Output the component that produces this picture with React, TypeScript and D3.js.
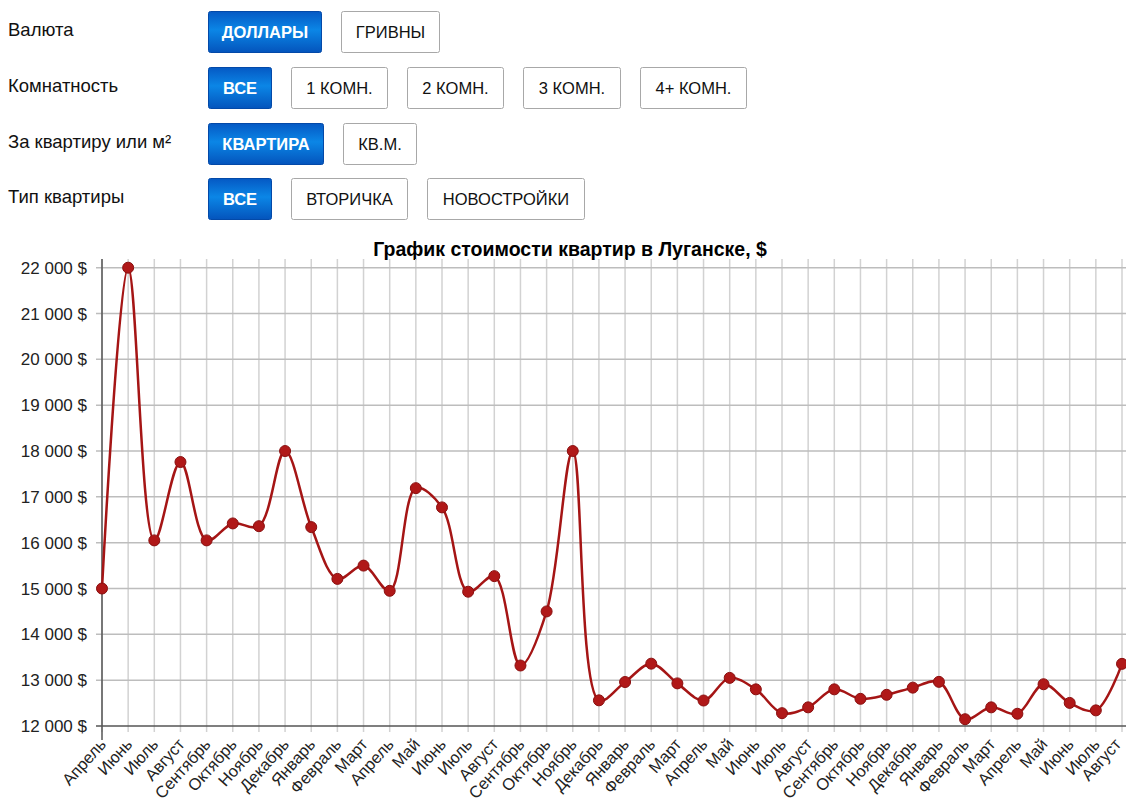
import React from "react";
import * as d3 from "d3";

const months = [
  "Апрель", "Июнь", "Июль", "Август", "Сентябрь", "Октябрь", "Ноябрь", "Декабрь",
  "Январь", "Февраль", "Март", "Апрель", "Май", "Июнь", "Июль", "Август",
  "Сентябрь", "Октябрь", "Ноябрь", "Декабрь", "Январь", "Февраль", "Март", "Апрель",
  "Май", "Июнь", "Июль", "Август", "Сентябрь", "Октябрь", "Ноябрь", "Декабрь",
  "Январь", "Февраль", "Март", "Апрель", "Май", "Июнь", "Июль", "Август",
];

const prices = [
  15000, 22000, 16050, 17760, 16050, 16420, 16360, 18000,
  16340, 15210, 15500, 14950, 17190, 16770, 14930, 15270,
  13320, 14500, 18000, 12560, 12960, 13360, 12930, 12556,
  13050, 12800, 12280, 12407, 12800, 12593, 12681, 12837,
  12963, 12148, 12407, 12267, 12911, 12504, 12341, 13356,
];

const yTicks = [12000, 13000, 14000, 15000, 16000, 17000, 18000, 19000, 20000, 21000, 22000];

const filterRows = [
  { label: "Валюта", options: ["ДОЛЛАРЫ", "ГРИВНЫ"], selected: 0 },
  { label: "Комнатность", options: ["ВСЕ", "1 КОМН.", "2 КОМН.", "3 КОМН.", "4+ КОМН."], selected: 0 },
  { label: "За квартиру или м²", options: ["КВАРТИРА", "КВ.М."], selected: 0 },
  { label: "Тип квартиры", options: ["ВСЕ", "ВТОРИЧКА", "НОВОСТРОЙКИ"], selected: 0 },
];

const title = "График стоимости квартир в Луганске, $";

const FONT = "'Liberation Sans', Arial, sans-serif";

export default function App() {
  const W = 1126, H = 798;
  const left = 102, right = 1122, top = 259, bottom = 726;

  const x = d3.scalePoint<number>().domain(d3.range(months.length)).range([left, right]);
  const y = d3.scaleLinear().domain([12000, 22000]).range([bottom, 267.7]);

  const line = d3
    .line<number>()
    .x((_, i) => x(i)!)
    .y((d) => y(d))
    .curve(d3.curveCatmullRom.alpha(0.5));

  const fmt = (v: number) => d3.format(",")(v).replace(/,/g, " ") + " $";

  const rowY = [11, 67, 123, 178];
  const btnH = 41;
  const btnWidths = [
    [113, 98],
    [63, 96, 96, 97, 106],
    [115, 73],
    [63, 116, 157],
  ];

  return (
    <svg
      width={W}
      height={H}
      style={{ position: "absolute", left: 0, top: 0, background: "#fff" }}
      fontFamily={FONT}
    >
      <defs>
        <linearGradient id="btnGrad" x1="0" y1="0" x2="0" y2="1">
          <stop offset="0%" stopColor="#0559c4" />
          <stop offset="45%" stopColor="#0b86e6" />
          <stop offset="100%" stopColor="#0454bc" />
        </linearGradient>
      </defs>

      {/* filter controls */}
      {filterRows.map((row, ri) => {
        let bx = 208;
        const by = rowY[ri];
        return (
          <g key={ri}>
            <text x={8} y={by + 25} fontSize={18.5} fill="#111">
              {row.label}
            </text>
            {row.options.map((opt, oi) => {
              const w = btnWidths[ri][oi];
              const cx = bx;
              bx += w + 20;
              const sel = oi === row.selected;
              return (
                <g key={oi}>
                  <rect
                    x={cx + 0.5}
                    y={by + 0.5}
                    width={w}
                    height={btnH}
                    rx={2}
                    fill={sel ? "url(#btnGrad)" : "#fff"}
                    stroke={sel ? "#0349a8" : "#a8a8a8"}
                    strokeWidth={1}
                  />
                  <text
                    x={cx + w / 2 + 0.5}
                    y={by + btnH / 2 + 6}
                    textAnchor="middle"
                    fontSize={16.5}
                    fontWeight={sel ? "bold" : "normal"}
                    fill={sel ? "#fff" : "#111"}
                  >
                    {opt}
                  </text>
                </g>
              );
            })}
          </g>
        );
      })}

      {/* title */}
      <text x={570} y={256} textAnchor="middle" fontSize={19.5} fontWeight="bold" fill="#000">
        {title}
      </text>

      {/* vertical gridlines */}
      {months.map((_, i) => (
        <line
          key={"v" + i}
          x1={x(i)}
          x2={x(i)}
          y1={top}
          y2={bottom + 6}
          stroke="#d2d2d2"
          strokeWidth={1.5}
        />
      ))}
      {/* horizontal gridlines */}
      {yTicks.map((t) => (
        <line
          key={"h" + t}
          x1={left - 6}
          x2={W}
          y1={y(t)}
          y2={y(t)}
          stroke={t === 12000 ? "#555" : "#bdbdbd"}
          strokeWidth={1.5}
        />
      ))}
      {/* y axis line */}
      <line x1={left} x2={left} y1={top} y2={bottom + 14} stroke="#555" strokeWidth={1.5} />

      {/* y labels */}
      {yTicks.map((t) => (
        <text key={"yl" + t} x={87} y={y(t) + 6} textAnchor="end" fontSize={17} fill="#222">
          {fmt(t)}
        </text>
      ))}

      {/* x labels */}
      {months.map((m, i) => (
        <text
          key={"xl" + i}
          transform={`translate(${Math.min(x(i)! + 5, 1122)},${bottom + 19}) rotate(-48)`}
          textAnchor="end"
          fontSize={16.5}
          fill="#222"
        >
          {m}
        </text>
      ))}

      {/* series */}
      <g>
        <path d={line(prices) ?? ""} fill="none" stroke="#a51515" strokeWidth={2.5} />
        {prices.map((v, i) => (
          <circle key={"p" + i} cx={x(i)} cy={y(v)} r={5.5} fill="#b01818" stroke="#8a0f0f" strokeWidth={1} />
        ))}
      </g>
    </svg>
  );
}
